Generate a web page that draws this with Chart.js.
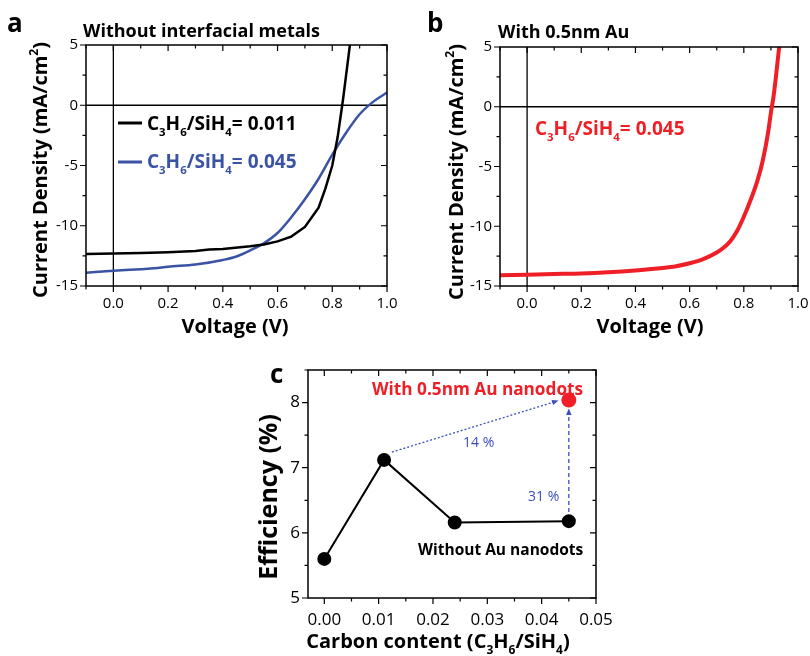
<!DOCTYPE html>
<html>
<head>
<meta charset="utf-8">
<script src="https://cdn.jsdelivr.net/npm/chart.js@4"></script>
<style>
html, body { margin: 0; padding: 0; background: #fff; }
#wrap { position: relative; width: 810px; height: 656px; overflow: hidden; }
canvas { position: absolute; }
</style>
</head>
<body>
<div id="wrap">
    <canvas id="chartA" width="400" height="340" style="left:0;top:0"></canvas>
    <canvas id="chartB" width="410" height="340" style="left:400px;top:0"></canvas>
    <canvas id="chartC" width="420" height="316" style="left:200px;top:340px"></canvas>
</div>
<script>
// Panel a: J-V without interfacial metals
const voltageBlack = [-0.1, 0, 0.1, 0.2, 0.3, 0.35, 0.4, 0.5, 0.55, 0.6, 0.65, 0.7, 0.75, 0.775, 0.8, 0.82, 0.84, 0.86, 0.87];
const jBlack = [-12.35, -12.3, -12.27, -12.2, -12.1, -11.97, -11.92, -11.7, -11.55, -11.3, -10.9, -10.1, -8.5, -6.9, -5.0, -2.6, 0.6, 4.2, 6.0];
const voltageBlue = [-0.1, 0, 0.1, 0.15, 0.2, 0.3, 0.4, 0.45, 0.5, 0.55, 0.6, 0.65, 0.7, 0.75, 0.8, 0.85, 0.9, 0.95, 1.0];
const jBlue = [-13.9, -13.73, -13.6, -13.53, -13.4, -13.22, -12.84, -12.55, -12.05, -11.45, -10.6, -9.3, -7.8, -6.1, -4.1, -2.3, -0.75, 0.3, 1.05];

// Panel b: J-V with 0.5nm Au
const voltageRed = [-0.1, 0, 0.1, 0.2, 0.3, 0.4, 0.5, 0.55, 0.6, 0.65, 0.7, 0.725, 0.75, 0.775, 0.8, 0.825, 0.85, 0.87, 0.89, 0.9, 0.91, 0.92, 0.93, 0.935];
const jRed = [-14.1, -14.05, -14.0, -13.95, -13.85, -13.7, -13.5, -13.35, -13.1, -12.75, -12.2, -11.8, -11.25, -10.4, -9.2, -7.8, -6.2, -4.5, -2.1, -0.5, 0.9, 2.8, 4.9, 6.0];

// Panel c: efficiency vs carbon content
const carbonContent = [0, 0.011, 0.024, 0.045];
const effNoAu = [5.6, 7.12, 6.16, 6.18];
const carbonAu = [0.045];
const effAu = [8.04];
const arrowStart = [[0.01244, 7.24], [0.045, 6.32]];
const arrowEnd = [[0.0431, 8.03], [0.045, 7.91]];

// tick labels
const voltTicks = [0, 0.2, 0.4, 0.6, 0.8, 1.0];
const jTicks = [-15, -10, -5, 0, 5];
const carbonTicks = [0, 0.01, 0.02, 0.03, 0.04, 0.05];
const effTicks = [5, 6, 7, 8];

const FONT = "'Open Sans', sans-serif";
const BLUE = '#3a53a4';
const RED = '#ee1f26';
const NOTE_BLUE = '#3b4dc2';

Chart.defaults.font.family = FONT;
Chart.defaults.color = '#000';

// text with sub/superscripts
function drawRich(ctx, parts, x, y, o) {
    const size = o.size;
    const weight = o.weight || 'bold';
    const font = s => `${weight} ${s}px ${FONT}`;
    let total = 0;
    const widths = parts.map(([t, m]) => {
        ctx.font = font(m ? size * 0.6 : size);
        const w = ctx.measureText(t).width;
        total += w;
        return w;
    });
    ctx.save();
    ctx.translate(x, y);
    if (o.rotate) ctx.rotate(o.rotate);
    ctx.fillStyle = o.color || '#000';
    ctx.textBaseline = 'alphabetic';
    ctx.textAlign = 'left';
    let cx = o.align === 'center' ? -total / 2 : (o.align === 'right' ? -total : 0);
    parts.forEach(([t, m], i) => {
        ctx.font = font(m ? size * 0.6 : size);
        const dy = m === 'sub' ? size * 0.3 : (m === 'sup' ? -size * 0.45 : 0);
        ctx.fillText(t, cx, dy);
        cx += widths[i];
    });
    ctx.restore();
}

// frame with inside/outside ticks, zero lines, and extra text
const framePlugin = {
    id: 'frame',
    beforeDatasetsDraw(chart, args, opts) {
        const ctx = chart.ctx;
        const a = chart.chartArea;
        const xs = chart.scales.x, ys = chart.scales.y;
        if (opts.zeroLines) {
            ctx.save();
            ctx.strokeStyle = '#000';
            ctx.lineWidth = 1.3;
            ctx.beginPath();
            const x0 = xs.getPixelForValue(0), y0 = ys.getPixelForValue(0);
            ctx.moveTo(x0, a.top); ctx.lineTo(x0, a.bottom);
            ctx.moveTo(a.left, y0); ctx.lineTo(a.right, y0);
            ctx.stroke();
            ctx.restore();
        }
    },
    afterDatasetsDraw(chart, args, opts) {
        const ctx = chart.ctx;
        const a = chart.chartArea;
        const xs = chart.scales.x, ys = chart.scales.y;
        ctx.save();
        ctx.strokeStyle = '#000';
        ctx.lineWidth = 1.5;
        ctx.strokeRect(a.left, a.top, a.right - a.left, a.bottom - a.top);
        ctx.lineWidth = 1.2;
        ctx.beginPath();
        const markX = (v, len) => {
            const p = xs.getPixelForValue(v);
            ctx.moveTo(p, a.bottom); ctx.lineTo(p, a.bottom + len);
            ctx.moveTo(p, a.top); ctx.lineTo(p, a.top + len);
        };
        const markY = (v, len) => {
            const p = ys.getPixelForValue(v);
            ctx.moveTo(a.left, p); ctx.lineTo(a.left - len, p);
            ctx.moveTo(a.right, p); ctx.lineTo(a.right - len, p);
        };
        const eps = 1e-9;
        for (let v = Math.ceil(xs.min / opts.minorX - eps) * opts.minorX; v <= xs.max + eps; v += opts.minorX) {
            const major = xs.ticks.some(t => Math.abs(t.value - v) < opts.minorX / 10);
            markX(v, major ? 6 : 3.5);
        }
        for (let v = Math.ceil(ys.min / opts.minorY - eps) * opts.minorY; v <= ys.max + eps; v += opts.minorY) {
            const major = ys.ticks.some(t => Math.abs(t.value - v) < opts.minorY / 10);
            markY(v, major ? 6 : 3.5);
        }
        ctx.stroke();
        ctx.restore();
        if (opts.extra) opts.extra(chart, ctx);
    }
};

function fixedBox(size) {
    return function (scale) {
        if (scale.isHorizontal()) scale.height = size; else scale.width = size;
        scale.paddingLeft = scale.paddingRight = scale.paddingTop = scale.paddingBottom = 0;
    };
}

function xyOf(xv, yv) {
    return xv.map((x, i) => ({ x: x, y: yv[i] }));
}

function jvOptions(pad, yWidth, frameExtra) {
    return {
        responsive: false,
        animation: false,
        events: [],
        layout: { padding: pad },
        plugins: {
            legend: { display: false },
            tooltip: { enabled: false },
            frame: { minorX: 0.1, minorY: 2.5, zeroLines: true, extra: frameExtra }
        },
        scales: {
            x: {
                type: 'linear', min: -0.1, max: 1.0,
                grid: { display: false, drawTicks: false },
                border: { display: false },
                afterBuildTicks: s => { s.ticks = voltTicks.map(v => ({ value: v })); },
                afterFit: fixedBox(54),
                ticks: { padding: 9, font: { size: 15 }, maxRotation: 0, callback: v => v.toFixed(1) }
            },
            y: {
                type: 'linear', min: -15, max: 5,
                grid: { display: false, drawTicks: false },
                border: { display: false },
                afterBuildTicks: s => { s.ticks = jTicks.map(v => ({ value: v })); },
                afterFit: fixedBox(yWidth),
                ticks: { padding: 8, font: { size: 15 }, callback: v => String(v) }
            }
        }
    };
}

const yTitleParts = [['Current Density (mA/cm'], ['2', 'sup'], [')']];
const c3h6 = [['C'], ['3', 'sub'], ['H'], ['6', 'sub'], ['/SiH'], ['4', 'sub']];

// Panel a
new Chart(document.getElementById('chartA'), {
    type: 'line',
    data: {
        datasets: [
            { data: xyOf(voltageBlack, jBlack), borderColor: '#000', borderWidth: 2.5, pointRadius: 0, tension: 0 },
            { data: xyOf(voltageBlue, jBlue), borderColor: BLUE, borderWidth: 2.5, pointRadius: 0, cubicInterpolationMode: 'monotone' }
        ]
    },
    options: jvOptions({ left: 0, top: 45, right: 13, bottom: 0 }, 86, (chart, ctx) => {
        drawRich(ctx, [['a']], 7, 32, { size: 26 });
        drawRich(ctx, [['Without interfacial metals']], 83, 37, { size: 18 });
        ctx.save();
        ctx.lineWidth = 3;
        ctx.strokeStyle = '#000';
        ctx.beginPath(); ctx.moveTo(118, 123); ctx.lineTo(142, 123); ctx.stroke();
        ctx.strokeStyle = BLUE;
        ctx.beginPath(); ctx.moveTo(118, 162); ctx.lineTo(142, 162); ctx.stroke();
        ctx.restore();
        drawRich(ctx, c3h6.concat([['= 0.011']]), 147, 130, { size: 19 });
        drawRich(ctx, c3h6.concat([['= 0.045']]), 147, 168, { size: 19, color: BLUE });
        drawRich(ctx, yTitleParts, 47, 170, { size: 20, rotate: -Math.PI / 2, align: 'center' });
        drawRich(ctx, [['Voltage (V)']], 235, 333, { size: 20, align: 'center' });
    }),
    plugins: [framePlugin]
});

// Panel b
new Chart(document.getElementById('chartB'), {
    type: 'line',
    data: {
        datasets: [
            { data: xyOf(voltageRed, jRed), borderColor: RED, borderWidth: 4, pointRadius: 0, cubicInterpolationMode: 'monotone' }
        ]
    },
    options: jvOptions({ left: 0, top: 47, right: 12, bottom: 0 }, 100, (chart, ctx) => {
        drawRich(ctx, [['b']], 27, 32, { size: 26 });
        drawRich(ctx, [['With 0.5nm Au']], 98, 38, { size: 18 });
        drawRich(ctx, c3h6.concat([['= 0.045']]), 135, 135, { size: 19, color: RED });
        drawRich(ctx, yTitleParts, 63, 172, { size: 20, rotate: -Math.PI / 2, align: 'center' });
        drawRich(ctx, [['Voltage (V)']], 250, 333, { size: 20, align: 'center' });
    }),
    plugins: [framePlugin]
});

// Panel c
function drawArrow(ctx, x1, y1, x2, y2, dash) {
    const ang = Math.atan2(y2 - y1, x2 - x1);
    const head = 7;
    ctx.save();
    ctx.strokeStyle = NOTE_BLUE;
    ctx.fillStyle = NOTE_BLUE;
    ctx.lineWidth = 1.3;
    ctx.setLineDash(dash);
    ctx.beginPath();
    ctx.moveTo(x1, y1);
    ctx.lineTo(x2 - Math.cos(ang) * head * 0.8, y2 - Math.sin(ang) * head * 0.8);
    ctx.stroke();
    ctx.setLineDash([]);
    ctx.beginPath();
    ctx.moveTo(x2, y2);
    ctx.lineTo(x2 - head * Math.cos(ang - 0.4), y2 - head * Math.sin(ang - 0.4));
    ctx.lineTo(x2 - head * Math.cos(ang + 0.4), y2 - head * Math.sin(ang + 0.4));
    ctx.closePath();
    ctx.fill();
    ctx.restore();
}

new Chart(document.getElementById('chartC'), {
    type: 'line',
    data: {
        datasets: [
            { data: xyOf(carbonAu, effAu), showLine: false, pointRadius: 7.5, pointBackgroundColor: RED, pointBorderColor: RED, pointBorderWidth: 0 },
            { data: xyOf(carbonContent, effNoAu), borderColor: '#000', borderWidth: 2, tension: 0, pointRadius: 6, pointBackgroundColor: '#000', pointBorderColor: '#000' }
        ]
    },
    options: {
        responsive: false,
        animation: false,
        events: [],
        layout: { padding: { left: 0, top: 30, right: 24, bottom: 0 } },
        plugins: {
            legend: { display: false },
            tooltip: { enabled: false },
            frame: {
                minorX: 0.005, minorY: 0.5, zeroLines: false,
                extra: (chart, ctx) => {
                    const xs = chart.scales.x, ys = chart.scales.y;
                    drawArrow(ctx, xs.getPixelForValue(arrowStart[0][0]), ys.getPixelForValue(arrowStart[0][1]),
                        xs.getPixelForValue(arrowEnd[0][0]), ys.getPixelForValue(arrowEnd[0][1]), [2, 2]);
                    drawArrow(ctx, xs.getPixelForValue(arrowStart[1][0]), ys.getPixelForValue(arrowStart[1][1]),
                        xs.getPixelForValue(arrowEnd[1][0]), ys.getPixelForValue(arrowEnd[1][1]), [4, 3]);
                    drawRich(ctx, [['c']], 70, 43, { size: 26 });
                    drawRich(ctx, [['With 0.5nm Au nanodots']], 172, 55, { size: 17.2, color: RED });
                    drawRich(ctx, [['14 %']], 263, 107, { size: 14, weight: 'normal', color: NOTE_BLUE });
                    drawRich(ctx, [['31 %']], 328, 161, { size: 14, weight: 'normal', color: NOTE_BLUE });
                    drawRich(ctx, [['Without Au nanodots']], 218, 215, { size: 15.5 });
                    drawRich(ctx, [['Efficiency (%)']], 77, 157, { size: 25, rotate: -Math.PI / 2, align: 'center' });
                    drawRich(ctx, [['Carbon content (']].concat(c3h6, [[')']]), 238, 308, { size: 20, align: 'center' });
                }
            }
        },
        scales: {
            x: {
                type: 'linear', min: -0.003, max: 0.05,
                grid: { display: false, drawTicks: false },
                border: { display: false },
                afterBuildTicks: s => { s.ticks = carbonTicks.map(v => ({ value: v })); },
                afterFit: fixedBox(58),
                ticks: { padding: 12, font: { size: 17 }, maxRotation: 0, callback: v => v.toFixed(2) }
            },
            y: {
                type: 'linear', min: 5, max: 8.5,
                grid: { display: false, drawTicks: false },
                border: { display: false },
                afterBuildTicks: s => { s.ticks = effTicks.map(v => ({ value: v })); },
                afterFit: fixedBox(108),
                ticks: { padding: 8, font: { size: 17 }, callback: v => String(v) }
            }
        }
    },
    plugins: [framePlugin]
});
</script>
</body>
</html>
